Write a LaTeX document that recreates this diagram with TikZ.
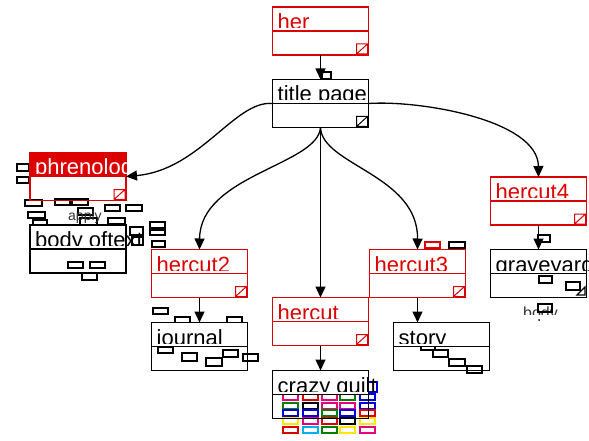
\documentclass[tikz,border=0pt]{standalone}
\usepackage{fontspec}
\setmainfont{Liberation Sans}
\usetikzlibrary{arrows.meta}
\definecolor{ured}{RGB}{221,0,0}
\definecolor{qmag}{RGB}{230,0,126}
\definecolor{qgreen}{RGB}{0,128,0}
\definecolor{qblue}{RGB}{0,0,220}
\definecolor{qyellow}{RGB}{255,232,0}
\definecolor{qcyan}{RGB}{0,176,240}
\tikzset{
  umlbox/.style={line width=1.3pt, minimum width=96pt, minimum height=48pt, inner sep=0pt, outer sep=0pt},
  lbl/.style={anchor=base west, inner sep=0pt, font=\fontsize{22}{24}\selectfont},
  arr/.style={-{Triangle[length=11pt,width=10pt]}, line width=1.3pt},
  clutter/.style={line width=1.2pt},
}
% name, x, y, colour, text colour, top fill, text
\newcommand\ubox[7]{%
  \node[umlbox, draw=#4] (#1) at (#2,#3) {};
  \fill[#6] (#1.north west) rectangle (#1.east);
  \draw[#4, line width=1.3pt] (#1.north west) rectangle (#1.south east);
  \draw[#4, line width=1.3pt] (#1.west) -- (#1.east);
  \begin{scope}
    \clip ([xshift=-2pt]#1.north west) rectangle ([xshift=80pt,yshift=3.5pt]#1.east);
    \node[lbl, text=#5] at ([xshift=5pt,yshift=1.5pt]#1.west) {#7};
  \end{scope}}
\newcommand\ucorner[2]{%
  \draw[#2, line width=1pt] ([shift={(-12pt,1pt)}]#1.south east) rectangle ([shift={(-1pt,11pt)}]#1.south east)
    ([shift={(-12pt,1pt)}]#1.south east) -- ([shift={(-1pt,11pt)}]#1.south east);}
\newcommand\sq[5]{\draw[clutter, #1] (#2,#3) rectangle (#4,#5);}
\begin{document}
\begin{tikzpicture}[x=1pt,y=-1pt]
\useasboundingbox (0,0) rectangle (589,441);
\fill[white] (0,0) rectangle (589,441);

% ---- clutter (drawn first, boxes cover it) ----
\sq{black}{322}{72}{331}{79}
\sq{black}{17}{164}{29}{171}
\sq{black}{17}{177}{29}{183}
\sq{black}{25}{200}{42}{206}
\sq{black}{55}{199}{70}{205}
\sq{black}{72}{199}{88}{205}
\sq{black}{28}{212}{45}{218}
\sq{black}{33}{220}{47}{225}
\sq{black}{78}{208}{93}{215}
\sq{black}{80}{218}{97}{225}
\sq{black}{105}{205}{120}{211}
\sq{black}{126}{205}{142}{211}
\sq{black}{108}{218}{125}{224}
\sq{black}{130}{227}{143}{235}
\sq{black}{132}{237}{143}{245}
\sq{black}{150}{222}{165}{228}
\sq{black}{150}{230}{165}{235}
\sq{black}{152}{241}{165}{247}
\sq{black}{68}{262}{83}{268}
\sq{black}{90}{262}{105}{268}
\sq{black}{82}{273}{97}{280}
\sq{black}{153}{308}{168}{314}
\sq{black}{175}{317}{190}{324}
\sq{black}{227}{317}{242}{324}
\sq{black}{158}{347}{173}{353}
\sq{black}{182}{353}{197}{361}
\sq{black}{206}{358}{222}{366}
\sq{black}{223}{350}{238}{357}
\sq{black}{243}{354}{258}{361}
\sq{ured}{425}{242}{440}{248}
\sq{black}{449}{242}{465}{248}
\sq{black}{421}{343}{435}{350}
\sq{black}{433}{350}{448}{357}
\sq{black}{449}{359}{465}{366}
\sq{black}{467}{366}{482}{373}
\sq{black}{538}{235}{550}{242}
\sq{black}{539}{276}{552}{283}
\sq{black}{566}{282}{580}{290}
\draw[clutter] (577,295) -- (585,287) -- (585,295) -- cycle;
\node[anchor=base west, inner sep=0pt, font=\fontsize{14}{16}\selectfont, text=black!80] (applylbl) at (68,220) {apply};
\begin{scope}
  \clip (515,300) rectangle (570,314);
  \node[anchor=base west, inner sep=0pt, font=\fontsize{16}{18}\selectfont, text=black!80] (bodylbl) at (523,318) {body};
\end{scope}
\sq{black}{538}{304}{552}{312}
\fill (539,320) circle (1pt);
% crazy quilt patches
\foreach \x/\y/\c in {
  283/394/qmag, 303/394/ured, 322/394/qmag, 340/394/qgreen, 360/394/qblue,
  283/403/qgreen, 303/403/black, 322/403/qmag, 340/403/qmag, 360/403/qblue,
  283/410/qblue, 303/410/qblue, 322/410/qgreen, 340/410/qblue, 360/410/ured,
  283/418/qyellow, 303/418/qmag, 322/418/ured, 340/418/black, 360/418/qyellow,
  283/427/ured, 303/427/qcyan, 322/427/qgreen, 340/427/qyellow, 360/427/qmag}
  {\draw[clutter, \c] (\x,\y) rectangle (\x+15,\y+6);}
\draw[clutter, qblue] (368,382) rectangle (377,392);

% ---- boxes ----
\ubox{her}{320.5}{31}{ured}{ured}{white}{her}
\ubox{title}{320.5}{103.5}{black}{black}{white}{title page}
\ubox{phren}{78}{176.5}{ured}{white}{ured}{phrenology}
\ubox{body}{78}{249}{black}{black}{white}{body oftext}
\ubox{hercuttwo}{199.5}{273.5}{ured}{ured}{white}{hercut2}
\ubox{journal}{199.5}{346.5}{black}{black}{white}{journal}
\ubox{hercut}{320.5}{321.5}{ured}{ured}{white}{hercut}
\ubox{crazy}{320.5}{394.5}{black}{black}{white}{crazy quilt}
\ubox{hercutthree}{417.5}{273.5}{ured}{ured}{white}{hercut3}
\ubox{story}{441.5}{346.5}{black}{black}{white}{story}
\ubox{hercutfour}{538.5}{201}{ured}{ured}{white}{hercut4}
\ubox{graveyard}{538.5}{273.5}{black}{black}{white}{graveyard}

\ucorner{her}{ured}
\ucorner{title}{black}
\ucorner{phren}{ured}
\ucorner{hercuttwo}{ured}
\ucorner{hercut}{ured}
\ucorner{hercutthree}{ured}
\ucorner{hercutfour}{ured}

% ---- connectors ----
\draw[arr] (her.south) -- (title.north);
\draw[arr] (title.west) .. controls (235,100) and (200,170) .. (phren.east);
\draw[arr] (title.east) .. controls (420,100) and (538,120) .. (hercutfour.north);
\draw[arr] (title.south) .. controls (318,165) and (200,175) .. (hercuttwo.north);
\draw[arr] (title.south) .. controls (322,165) and (418,175) .. (hercutthree.north);
\draw[arr] (title.south) -- (hercut.north);
\draw[arr] (hercuttwo.south) -- (journal.north);
\draw[arr] (hercut.south) -- (crazy.north);
\draw[arr] (hercutthree.south) -- (hercutthree.south |- story.north);
\draw[arr] (hercutfour.south) -- (graveyard.north);
\end{tikzpicture}
\end{document}
